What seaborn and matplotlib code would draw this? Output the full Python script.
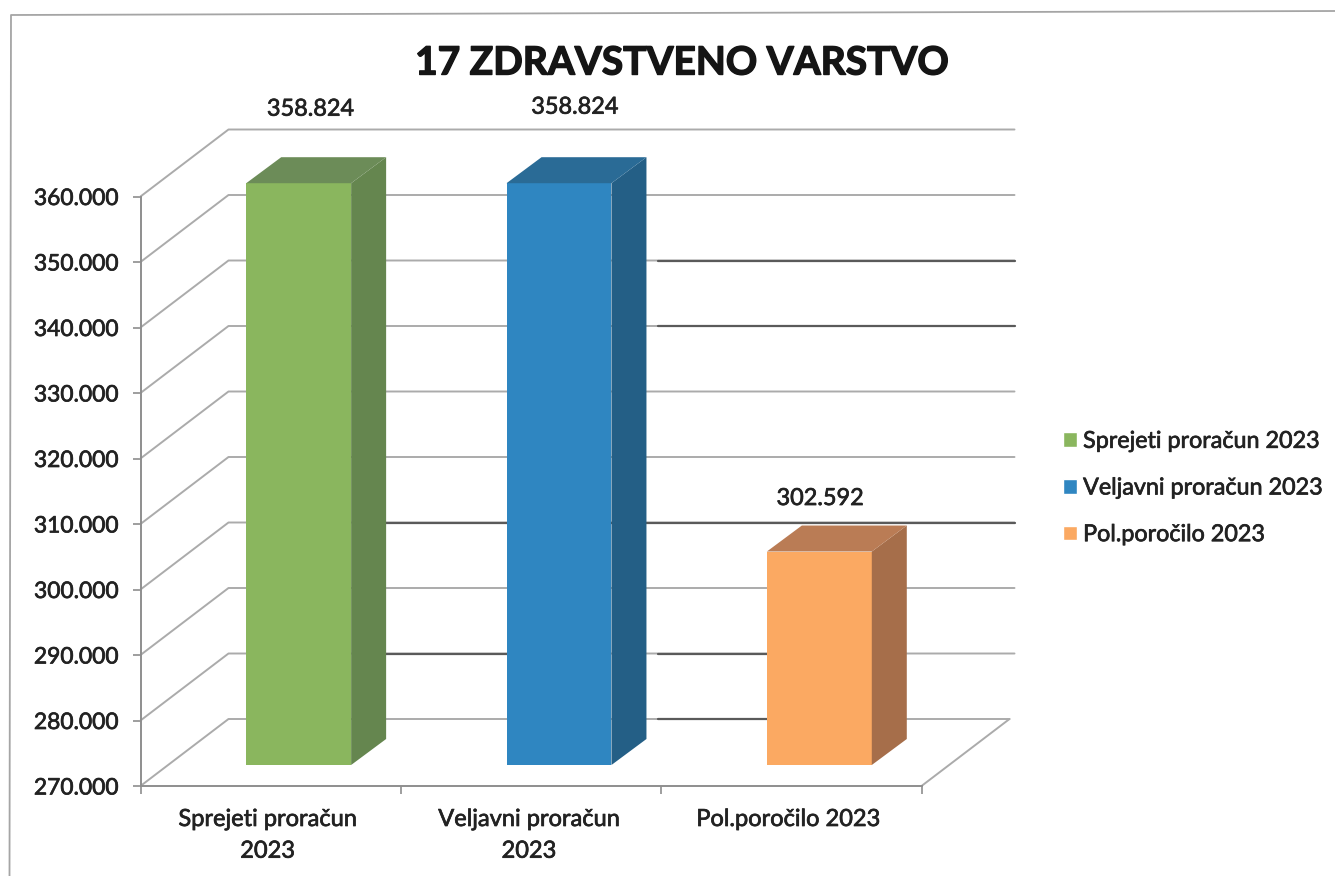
import numpy as np
import pandas as pd
import matplotlib
matplotlib.use("Agg")
import matplotlib.pyplot as plt
from matplotlib.lines import Line2D
from matplotlib.patches import Polygon
from matplotlib.ticker import FuncFormatter
from matplotlib.transforms import Affine2D, IdentityTransform
import matplotlib.patheffects as pe
import seaborn as sns

# ---- data ----
categories = ["Sprejeti proračun 2023", "Veljavni proračun 2023", "Pol.poročilo 2023"]
tick_labels = ["Sprejeti proračun\n2023", "Veljavni proračun\n2023", "Pol.poročilo 2023"]
values = [358824, 358824, 302592]
value_labels = ["358.824", "358.824", "302.592"]
y_ticks = [270000, 280000, 290000, 300000, 310000, 320000, 330000, 340000, 350000, 360000]
title = "17 ZDRAVSTVENO VARSTVO"

# ---- styles ----
front_colors = ["#8AB65E", "#2F86C1", "#FBA962"]
side_colors = ["#65864F", "#245F86", "#A66E4A"]
top_colors = ["#6C8C58", "#2A6B96", "#BA7C55"]
text_color = "#222222"
grid_color = "#ABABAB"
dark_grid = "#5A5A5A"
bolden = [pe.withStroke(linewidth=0.5, foreground=text_color)]

W, H = 1335, 876
sns.set_theme(style="white")
plt.rcParams["font.family"] = ["Lato", "DejaVu Sans"]
fig = plt.figure(figsize=(W / 100, H / 100), dpi=100, facecolor="white")
L, R, B, T = 140.5, 921.5, 786.0, 196.5
ax = fig.add_axes([L / W, (H - B) / H, (R - L) / W, (B - T) / H])
ax.patch.set_alpha(0)

df = pd.DataFrame({"cat": categories, "val": values})
sns.barplot(data=df, x="cat", y="val", hue="cat", palette=front_colors, dodge=False,
            width=0.403, saturation=1, legend=True, ax=ax, zorder=3)
ax.set_xlim(-0.5, 2.5)
ax.set_ylim(y_ticks[0], y_ticks[-1])
ax.set_xlabel("")
ax.set_ylabel("")

fig.canvas.draw()
base = y_ticks[0]
# bar depth placement (pixels)
bar_dx, bar_dy = 28, 21
side_dx, side_dy = 35, 26
wall_dx, wall_dy = 88, 67
shift = ax.transData + Affine2D().translate(bar_dx, bar_dy)

bars = [b for c in ax.containers for b in c if b.get_height() > 0]
bars.sort(key=lambda b: b.get_x())
for i, b in enumerate(bars):
    b.set_y(base)
    b.set_height(values[i] - base)
    b.set_transform(shift)
    b.set_clip_on(False)
    b.set_linewidth(0)
    x0, x1 = b.get_x(), b.get_x() + b.get_width()
    (px0, py0), (px1, py1) = shift.transform([(x0, base), (x1, values[i])])
    side = [(px1, py0), (px1 + side_dx, py0 + side_dy), (px1 + side_dx, py1 + side_dy), (px1, py1)]
    top = [(px0, py1), (px0 + side_dx, py1 + side_dy), (px1 + side_dx, py1 + side_dy), (px1, py1)]
    for pts, col in ((side, side_colors[i]), (top, top_colors[i])):
        ax.add_patch(Polygon(pts, closed=True, transform=IdentityTransform(), facecolor=col,
                             edgecolor="none", clip_on=False, zorder=3))

# back wall grid and side wall diagonals
to_px = ax.transData.transform
for v in y_ticks:
    p0 = to_px((-0.5, v))
    p1 = to_px((2.5, v))
    ax.add_line(Line2D([p0[0], p0[0] + wall_dx, p1[0] + wall_dx + (5 if v > 275000 else 0)],
                       [p0[1], p0[1] + wall_dy, p1[1] + wall_dy],
                       transform=IdentityTransform(), color=grid_color, lw=1.4,
                       clip_on=False, zorder=1))
# floor right edge
pf = to_px((2.5, base))
ax.add_line(Line2D([pf[0], pf[0] + wall_dx], [pf[1], pf[1] + wall_dy], transform=IdentityTransform(),
                   color=grid_color, lw=1.4, clip_on=False, zorder=1))
# darker scan-toned stretches of the grid, as (value, from category pos, to category pos)
for v, a, b_ in [(340000, 1.15, 2.5), (330000, 1.15, 2.5), (300000, 0.1, 2.5),
                 (280000, 0.1, 0.65), (280000, 1.15, 1.65), (270000, 1.15, 1.65)]:
    pa, pb = to_px((a, v)), to_px((b_, v))
    ax.add_line(Line2D([pa[0] + wall_dx, pb[0] + wall_dx + (5 if b_ > 2 else 0)],
                       [pa[1] + wall_dy, pb[1] + wall_dy],
                       transform=IdentityTransform(), color=dark_grid, lw=1.6,
                       clip_on=False, zorder=1.5))

# axes
for s in ("top", "right"):
    ax.spines[s].set_visible(False)
for s in ("left", "bottom"):
    ax.spines[s].set_color("#8E8E8E")
    ax.spines[s].set_linewidth(1.4)
ax.set_yticks(y_ticks)
ax.yaxis.set_major_formatter(FuncFormatter(lambda v, _: f"{int(v):,}".replace(",", ".")))
ax.tick_params(axis="y", length=6, width=1.2, color="#8E8E8E", left=True, pad=10,
               labelsize=16.4, labelcolor=text_color)
for t in ax.get_yticklabels():
    t.set_path_effects(bolden)
ax.set_xticks([-0.5, 0.5, 1.5, 2.5], labels=[""] * 4)
ax.tick_params(axis="x", length=6, width=1.2, color="#8E8E8E", bottom=True)
for i, (lab, dx) in enumerate(zip(tick_labels, (-3, -2, -3))):
    ax.annotate(lab, (i, base), xytext=(dx, -23), textcoords="offset pixels", ha="center", va="top",
                fontsize=17, color=text_color, linespacing=1.63, annotation_clip=False,
                path_effects=bolden)

# value labels
for i, (lab, dx, dy) in enumerate(zip(value_labels, (40, 44, 29), (95, 97, 74))):
    ax.annotate(lab, (i, values[i]), xytext=(dx, dy), textcoords="offset pixels", ha="center",
                va="center", fontsize=16.9, color=text_color, annotation_clip=False,
                path_effects=bolden)

fig.text(682 / W, 1 - 63 / H, title, ha="center", va="center", fontsize=28, fontweight="bold",
         color="#151515", path_effects=[pe.withStroke(linewidth=1.0, foreground="#151515")])

# legend
handles, labels = ax.get_legend_handles_labels()
leg = ax.legend(handles, labels, loc="center left", bbox_to_anchor=(1063 / W, 1 - 488 / H),
                bbox_transform=fig.transFigure, frameon=False, fontsize=16.8,
                handlelength=0.6, handleheight=0.6, handletextpad=0.26, labelspacing=1.1,
                borderpad=0, borderaxespad=0)
for t in leg.get_texts():
    t.set_color(text_color)
    t.set_path_effects(bolden)

# page frame of the scan
fig.add_artist(Line2D([9.5 / W, 11 / W, 1 / 1], [0, 1 - 15 / H, 1 - 11 / H], color="#A5A5A5", lw=1.3))

fig.savefig("out.png", dpi=100, facecolor="white")
